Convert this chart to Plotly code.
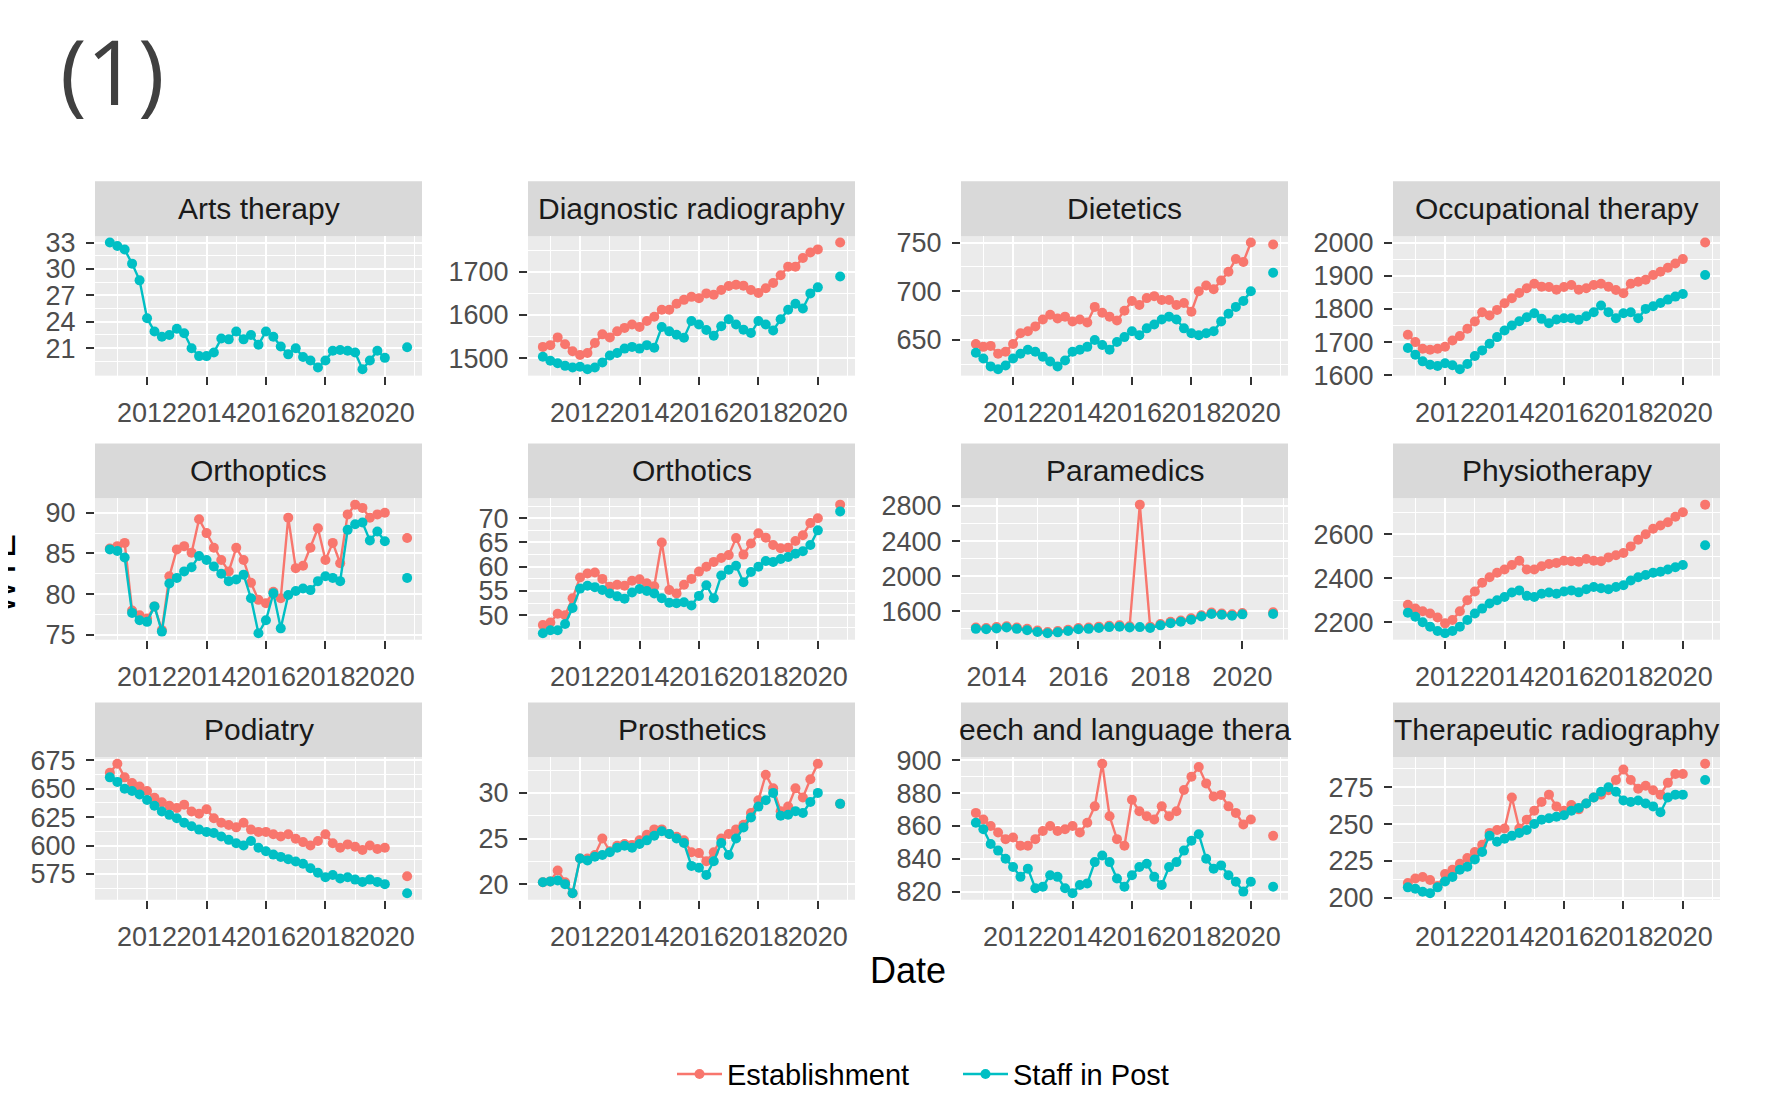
import plotly.graph_objects as go
import pandas as pd

# ---------------- data ----------------
quarters = pd.date_range("2010-10-01", "2020-10-01", freq="QS")          # 41 quarterly dates
para_quarters = pd.date_range("2013-07-01", "2020-10-01", freq="QS")     # 30 quarterly dates
GAP = [None, None]

panel_names = ["Arts therapy", "Diagnostic radiography", "Dietetics", "Occupational therapy",
               "Orthoptics", "Orthotics", "Paramedics", "Physiotherapy",
               "Podiatry", "Prosthetics", "eech and language thera", "Therapeutic radiography"]

arts_est = None
arts_sip = [33.0, 32.6, 32.2, 30.6, 28.7, 24.4, 22.9, 22.3, 22.5, 23.2, 22.7, 21.0, 20.1, 20.1, 20.5, 22.1,
            22.0, 22.9, 22.0, 22.5, 21.4, 22.9, 22.3, 21.2, 20.3, 21.0, 20.0, 19.6, 18.8, 19.6, 20.7, 20.8,
            20.7, 20.5, 18.6, 19.6, 20.7, 19.9] + GAP + [21.1]

diag_est = [1526, 1530, 1548, 1532, 1516, 1507, 1512, 1535, 1555, 1548, 1562, 1570, 1578, 1572, 1586, 1596,
            1612, 1612, 1626, 1635, 1642, 1639, 1650, 1647, 1658, 1667, 1670, 1668, 1658, 1651, 1662, 1674,
            1692, 1712, 1712, 1732, 1745, 1752] + GAP + [1768]
diag_sip = [1503, 1494, 1488, 1482, 1478, 1480, 1474, 1478, 1490, 1506, 1512, 1522, 1526, 1522, 1530, 1524,
            1572, 1562, 1554, 1547, 1586, 1578, 1565, 1552, 1574, 1590, 1578, 1566, 1558, 1586, 1578, 1564,
            1590, 1612, 1626, 1615, 1650, 1664] + GAP + [1689]

diet_est = [646, 643, 644, 636, 638, 646, 657, 659, 664, 671, 676, 672, 674, 669, 671, 668, 684, 678, 674, 670,
            680, 690, 686, 693, 695, 691, 691, 686, 688, 679, 700, 706, 702, 711, 720, 733, 730, 750] + GAP + [748]
diet_sip = [637, 631, 623, 620, 624, 631, 636, 640, 638, 633, 628, 623, 629, 638, 640, 643, 650, 645, 640, 648,
            653, 659, 655, 662, 666, 671, 674, 671, 662, 657, 655, 657, 659, 669, 677, 684, 690, 700] + GAP + [719]

ot_est = [1722, 1700, 1680, 1677, 1680, 1686, 1705, 1718, 1740, 1762, 1790, 1780, 1797, 1817, 1832, 1848,
          1862, 1876, 1867, 1866, 1858, 1866, 1872, 1858, 1862, 1872, 1876, 1867, 1857, 1847, 1876, 1882,
          1888, 1902, 1912, 1924, 1937, 1950] + GAP + [2000]
ot_sip = [1682, 1662, 1642, 1632, 1628, 1636, 1630, 1618, 1634, 1658, 1675, 1695, 1715, 1735, 1750, 1763,
          1775, 1787, 1770, 1757, 1768, 1772, 1772, 1767, 1778, 1790, 1810, 1790, 1772, 1787, 1790, 1772,
          1800, 1808, 1818, 1828, 1837, 1845] + GAP + [1902]

orthop_est = [85.6, 85.9, 86.3, 78.0, 77.4, 77.0, 78.5, 75.6, 82.2, 85.5, 85.9, 85.1, 89.2, 87.5, 85.7, 84.2,
              82.8, 85.7, 84.2, 81.4, 79.3, 78.9, 80.3, 79.5, 89.4, 83.2, 83.5, 85.7, 88.1, 84.2, 86.3, 83.8,
              89.8, 91.0, 90.6, 89.4, 89.8, 90.0] + GAP + [86.9]
orthop_sip = [85.5, 85.3, 84.5, 77.7, 76.8, 76.6, 78.5, 75.4, 81.3, 82.0, 82.8, 83.3, 84.7, 84.2, 83.4, 82.5,
              81.6, 81.8, 82.4, 79.5, 75.2, 76.8, 80.1, 75.8, 79.9, 80.4, 80.7, 80.5, 81.6, 82.2, 82.0, 81.6,
              87.9, 88.6, 88.8, 86.6, 87.7, 86.5] + GAP + [82.0]

orthot_est = [48.0, 48.5, 50.3, 50.0, 53.5, 57.8, 58.6, 58.8, 57.5, 55.9, 56.3, 56.1, 57.1, 57.4, 56.6, 56.0,
              65.0, 55.2, 54.5, 56.3, 57.5, 59.0, 60.0, 61.0, 61.8, 62.4, 65.9, 62.5, 64.8, 66.9, 66.0, 64.5,
              63.8, 63.9, 65.3, 66.5, 69.0, 70.0] + GAP + [72.8]
orthot_sip = [46.3, 46.9, 46.9, 48.2, 51.5, 55.5, 56.1, 55.8, 55.2, 54.5, 53.9, 53.4, 54.7, 55.4, 55.0, 54.5,
              53.5, 52.6, 52.5, 52.7, 52.0, 54.0, 56.2, 53.5, 58.2, 59.4, 60.2, 56.8, 58.9, 60.0, 61.2, 61.0,
              61.6, 62.0, 62.7, 63.2, 64.5, 67.5] + GAP + [71.4]

para_est = [1415, 1410, 1420, 1430, 1415, 1400, 1380, 1365, 1375, 1390, 1410, 1415, 1425, 1435, 1440, 1430,
            2815, 1425, 1455, 1480, 1495, 1520, 1555, 1585, 1575, 1565, 1580] + GAP + [1590]
para_sip = [1400, 1395, 1405, 1415, 1400, 1385, 1365, 1350, 1360, 1375, 1395, 1400, 1410, 1420, 1425, 1415,
            1420, 1410, 1440, 1465, 1480, 1505, 1540, 1570, 1560, 1550, 1565] + GAP + [1570]

physio_est = [2280, 2262, 2250, 2240, 2222, 2195, 2210, 2250, 2300, 2340, 2380, 2405, 2425, 2440, 2460, 2480,
              2440, 2440, 2455, 2465, 2470, 2480, 2478, 2475, 2488, 2480, 2478, 2495, 2505, 2515, 2545, 2575,
              2600, 2625, 2640, 2655, 2680, 2700] + GAP + [2735]
physio_sip = [2243, 2225, 2200, 2180, 2160, 2150, 2160, 2180, 2210, 2240, 2262, 2285, 2300, 2315, 2335, 2345,
              2320, 2315, 2330, 2335, 2330, 2340, 2345, 2336, 2350, 2360, 2355, 2350, 2360, 2368, 2390, 2405,
              2415, 2425, 2430, 2440, 2450, 2460] + GAP + [2550]

pod_est = [664, 672, 660, 655, 652, 648, 642, 638, 635, 633, 636, 630, 628, 632, 624, 620, 618, 616, 620, 614,
           612, 612, 610, 608, 610, 606, 603, 600, 604, 610, 602, 598, 601, 599, 596, 600, 597, 598] + GAP + [573]
pod_sip = [660, 656, 650, 648, 645, 640, 635, 630, 627, 624, 620, 617, 614, 612, 611, 608, 605, 602, 600, 604,
           598, 595, 592, 590, 588, 586, 584, 580, 576, 572, 574, 571, 572, 570, 568, 570, 568, 566] + GAP + [558]

pros_est = [20.2, 20.3, 21.5, 20.2, 19.0, 22.8, 22.8, 23.2, 25.0, 23.6, 24.2, 24.4, 24.3, 24.8, 25.4, 26.0,
            26.0, 25.5, 25.2, 24.8, 23.5, 23.4, 22.5, 23.5, 25.0, 25.5, 26.0, 26.5, 27.8, 29.2, 32.0, 30.5,
            28.0, 28.5, 30.5, 29.5, 31.5, 33.2] + GAP + [28.8]
pros_sip = [20.2, 20.3, 20.4, 20.0, 19.0, 22.8, 22.6, 23.0, 23.2, 23.5, 24.0, 24.2, 24.0, 24.4, 24.8, 25.3,
            25.8, 25.5, 25.0, 24.5, 22.0, 21.8, 21.0, 22.5, 24.5, 23.2, 25.0, 26.2, 27.3, 28.5, 29.2, 30.0,
            27.5, 27.6, 28.0, 27.8, 29.0, 30.0] + GAP + [28.8]

slt_est = [868, 864, 860, 856, 852, 853, 848, 848, 852, 857, 860, 857, 858, 860, 856, 862, 872, 898, 866, 852,
           848, 876, 869, 866, 864, 872, 866, 869, 882, 890, 896, 886, 878, 879, 872, 868, 861, 864] + GAP + [854]
slt_sip = [862, 858, 849, 845, 840, 835, 829, 834, 822, 823, 830, 829, 822, 819, 824, 825, 838, 842, 838, 828,
           823, 830, 835, 837, 829, 824, 835, 838, 845, 851, 855, 840, 834, 836, 830, 826, 820, 826] + GAP + [823]

ther_est = [210, 213, 214, 212, 208, 216, 219, 223, 227, 231, 236, 244, 246, 247, 268, 247, 253, 259, 265, 270,
            262, 259, 263, 260, 264, 268, 270, 273, 280, 287, 280, 274, 276, 273, 270, 278, 284, 284] + GAP + [291]
ther_sip = [207, 206, 204, 203, 207, 211, 214, 219, 221, 226, 231, 242, 238, 240, 242, 244, 246, 250, 253, 254,
            255, 256, 259, 261, 264, 268, 272, 275, 272, 266, 265, 266, 264, 262, 258, 268, 270, 270] + GAP + [280]

# tick labels
years_std = ["2012", "2014", "2016", "2018", "2020"]
years_para = ["2014", "2016", "2018", "2020"]
y_ticks = [
    [21, 24, 27, 30, 33],
    [1500, 1600, 1700],
    [650, 700, 750],
    [1600, 1700, 1800, 1900, 2000],
    [75, 80, 85, 90],
    [50, 55, 60, 65, 70],
    [1600, 2000, 2400, 2800],
    [2200, 2400, 2600],
    [575, 600, 625, 650, 675],
    [20, 25, 30],
    [820, 840, 860, 880, 900],
    [200, 225, 250, 275],
]

series = [
    (quarters, arts_est, arts_sip), (quarters, diag_est, diag_sip), (quarters, diet_est, diet_sip),
    (quarters, ot_est, ot_sip), (quarters, orthop_est, orthop_sip), (quarters, orthot_est, orthot_sip),
    (para_quarters, para_est, para_sip), (quarters, physio_est, physio_sip), (quarters, pod_est, pod_sip),
    (quarters, pros_est, pros_sip), (quarters, slt_est, slt_sip), (quarters, ther_est, ther_sip),
]

# ---------------- style / layout ----------------
PAGE_OFF = 8                      # default body margin of the html page
W, H = 1776 - PAGE_OFF, 1100 - PAGE_OFF


def px(xp):
    return (xp - PAGE_OFF) / W


def py(yp):
    return 1 - (yp - PAGE_OFF) / H


EST_C, SIP_C = "#F8766D", "#00BFC4"
FONT = "Liberation Sans"
col_left = [95, 528, 961, 1393]
panel_w = 327
row_top = [237, 500, 760]
row_bot = [377, 642, 903]
strip_h = 55

fig = go.Figure()
shapes, annotations = [], []
legend_done = False

for i, (dates, est, sip) in enumerate(series):
    r, c = divmod(i, 4)
    n = i + 1
    xa = "x" if n == 1 else f"x{n}"
    ya = "y" if n == 1 else f"y{n}"
    xs = list(dates)
    show = False
    if est is not None:
        show = not legend_done
        fig.add_trace(go.Scatter(x=xs, y=est, xaxis=xa, yaxis=ya, mode="lines+markers", name="Establishment",
                                 line=dict(color=EST_C, width=2.4), marker=dict(color=EST_C, size=10),
                                 showlegend=show, connectgaps=False))
    fig.add_trace(go.Scatter(x=xs, y=sip, xaxis=xa, yaxis=ya, mode="lines+markers", name="Staff in Post",
                             line=dict(color=SIP_C, width=2.4), marker=dict(color=SIP_C, size=10),
                             showlegend=show, connectgaps=False))
    if show:
        legend_done = True

    # ranges like ggplot (5% expansion)
    vals = [v for s in (est, sip) if s is not None for v in s if v is not None]
    lo, hi = min(vals), max(vals)
    d = hi - lo
    yr = [lo - 0.05 * d, hi + 0.05 * d]
    x0, x1 = dates[0], dates[-1]
    span = x1 - x0
    xr = [x0 - 0.05 * span, x1 + 0.05 * span]

    labels = years_para if i == 6 else years_std
    xt = [f"{y}-01-01" for y in labels]
    xminor = [f"{int(y) - 1}-01-01" for y in labels] + [f"{int(labels[-1]) + 1}-01-01"]
    yt = y_ticks[i]
    step = yt[1] - yt[0]
    yminor = [t - step / 2 for t in yt] + [yt[-1] + step / 2]

    left = col_left[c]
    top, bot = row_top[r], row_bot[r]
    axis_common = dict(showgrid=True, gridcolor="white", gridwidth=2.4, zeroline=False, showline=False,
                       ticks="outside", ticklen=8, tickwidth=2, tickcolor="#333333",
                       automargin=False, fixedrange=True)
    fig.layout[f"xaxis{'' if n == 1 else n}"] = dict(
        axis_common, type="date", domain=[px(left), px(left + panel_w)], anchor=ya,
        range=[xr[0], xr[1]], tickmode="array", tickvals=xt, ticktext=labels, tickangle=0,
        tickfont=dict(family=FONT, size=27, color="#4D4D4D"),
        minor=dict(tickvals=xminor, showgrid=True, gridcolor="white", gridwidth=1.2, ticks=""),
        ticklabelstandoff=5)
    fig.layout[f"yaxis{'' if n == 1 else n}"] = dict(
        axis_common, domain=[py(bot), py(top)], anchor=xa, range=yr,
        tickmode="array", tickvals=yt, ticktext=[str(t) for t in yt],
        tickfont=dict(family=FONT, size=27, color="#4D4D4D"),
        minor=dict(tickvals=yminor, showgrid=True, gridcolor="white", gridwidth=1.2, ticks=""),
        ticklabelstandoff=5)

    # facet strip
    shapes.append(dict(type="rect", xref="paper", yref="paper", x0=px(left), x1=px(left + panel_w),
                       y0=py(top), y1=py(top - strip_h), fillcolor="#D9D9D9", line=dict(width=0),
                       layer="below"))
    annotations.append(dict(text=panel_names[i], xref="paper", yref="paper", x=px(left + panel_w / 2),
                            y=py(top - strip_h / 2), showarrow=False, xanchor="center", yanchor="middle",
                            font=dict(family=FONT, size=30, color="#1A1A1A")))

annotations.append(dict(text="Date", xref="paper", yref="paper", x=px(908), y=py(974), showarrow=False,
                        xanchor="center", yanchor="middle", font=dict(family=FONT, size=36, color="#000000")))
annotations.append(dict(text="WTE", xref="paper", yref="paper", x=px(3), y=py(576), showarrow=False,
                        textangle=-90, xanchor="center", yanchor="middle",
                        font=dict(family=FONT, size=36, color="#000000")))
annotations.append(dict(text="(1)", xref="paper", yref="paper", x=px(112), y=py(70), showarrow=False,
                        xanchor="center", yanchor="middle", font=dict(family="Open Sans", size=90, color="#404040")))

fig.update_layout(
    width=W, height=H, margin=dict(l=0, r=0, t=0, b=0),
    paper_bgcolor="white", plot_bgcolor="#EBEBEB",
    shapes=shapes, annotations=annotations,
    showlegend=True,
    legend=dict(orientation="h", x=px(672), xanchor="left", y=py(1078), yanchor="middle",
                font=dict(family=FONT, size=29, color="#000000"), bgcolor="rgba(0,0,0,0)",
                itemwidth=45, entrywidth=226, entrywidthmode="pixels", tracegroupgap=0),
)

fig.write_html("out.html")
